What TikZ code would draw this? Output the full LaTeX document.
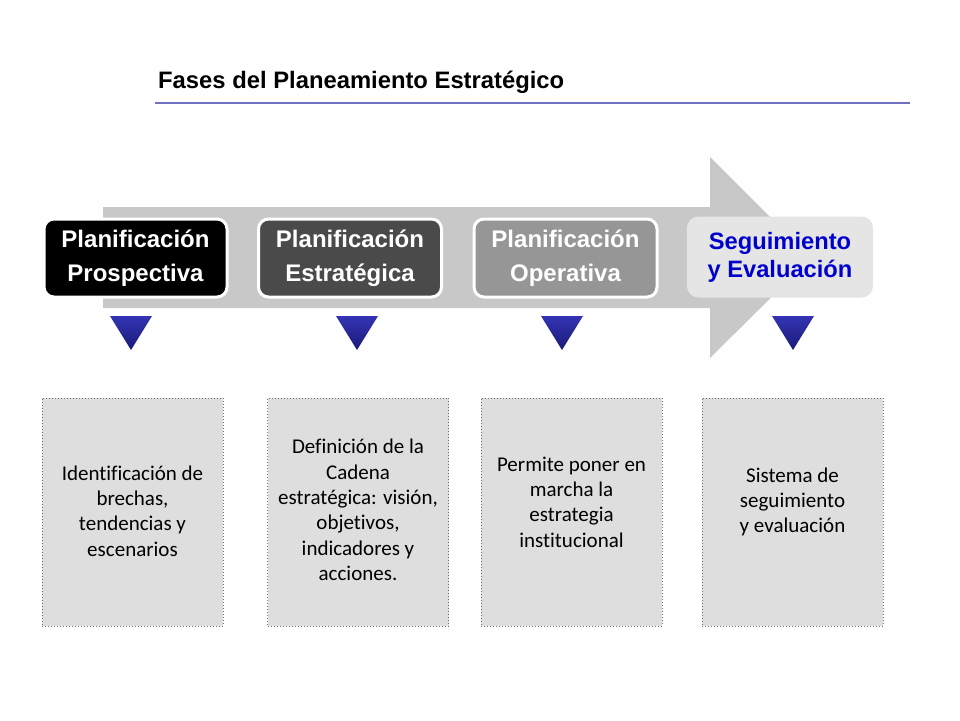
\documentclass[tikz,border=0pt]{standalone}
\usepackage{fontspec}
\setmainfont{Carlito}[Ligatures=NoCommon]
\newfontfamily\arialfont{Liberation Sans}
\definecolor{arrowgray}{RGB}{200,200,200}
\definecolor{lineblue}{RGB}{112,112,192}
\definecolor{phasetwo}{RGB}{74,74,74}
\definecolor{phasethree}{RGB}{150,150,150}
\definecolor{phasefour}{RGB}{229,229,229}
\definecolor{segblue}{RGB}{0,0,204}
\definecolor{tritop}{RGB}{52,52,180}
\definecolor{tribot}{RGB}{26,26,120}
\definecolor{descgray}{RGB}{222,222,222}
\definecolor{descline}{RGB}{110,110,110}
\begin{document}
\begin{tikzpicture}[x=1pt, y=-1pt, every node/.style={inner sep=0pt}]
\useasboundingbox (0,0) rectangle (960,720);

\coordinate (LW) at (155,103);
\coordinate (LE) at (910,103);

\coordinate (P1) at (135.5,258);
\coordinate (P2) at (350,258);
\coordinate (P3) at (565.5,258);
\coordinate (P4) at (780,257);

\coordinate (D1) at (132.5,512);
\coordinate (D2) at (358,512);
\coordinate (D3) at (571.5,512);
\coordinate (D4) at (792.5,512);

% title
\node[anchor=base west, font=\arialfont\bfseries\fontsize{23.8}{28}\selectfont] (title) at (158,88) {Fases del Planeamiento Estratégico};
\draw[lineblue, line width=2pt] (LW) -- (LE);

% big arrow
\fill[arrowgray] (103,207) -- (710,207) -- (710,157) -- (811,258) -- (710,358) -- (710,308) -- (103,308) -- cycle;

\begin{scope}[every node/.style={rectangle, rounded corners=10pt, inner sep=0pt, minimum width=183pt, minimum height=78pt, draw=white, line width=3pt, align=center, text=white, font=\arialfont\bfseries\fontsize{24}{34}\selectfont}]
\node[fill=black] (prosp) at (P1) {Planificación\\Prospectiva};
\node[fill=phasetwo] (estra) at (P2) {Planificación\\Estratégica};
\node[fill=phasethree] (opera) at (P3) {Planificación\\Operativa};
\node[fill=phasefour, draw=phasefour, text=segblue, font=\arialfont\bfseries\fontsize{23.7}{28}\selectfont] (segui) at (P4) {Seguimiento\\y Evaluación};
\end{scope}

% triangles
\begin{scope}[every path/.style={top color=tritop, bottom color=tribot, draw=none}]
\shade (110,316) -- (152,316) -- (131,350) -- cycle;
\shade (336,316) -- (378,316) -- (357,350) -- cycle;
\shade (541,316) -- (583,316) -- (562,350) -- cycle;
\shade (772,316) -- (814,316) -- (793,350) -- cycle;
\end{scope}

\begin{scope}[every node/.style={rectangle, inner sep=0pt, minimum width=181pt, minimum height=228pt, fill=descgray, draw=descline, dotted, line width=1pt}]
\node (brechas) at (D1) {};
\node (cadena) at (D2) {};
\node (marcha) at (D3) {};
\node (sistema) at (D4) {};
\end{scope}

\begin{scope}[every node/.style={inner sep=0pt, align=center, font=\fontsize{21}{25.3}\selectfont}]
\node (brechastext) at ([yshift=1pt]brechas.center) {Identificación de\\brechas,\\tendencias y\\escenarios};
\node (cadenatext) at ([yshift=2pt]cadena.center) {Definición de la\\Cadena\\estratégica: visión,\\objetivos,\\indicadores y\\acciones.};
\node (marchatext) at ([yshift=10pt]marcha.center) {Permite poner en\\marcha la\\estrategia\\institucional};
\node (sistematext) at ([yshift=10pt]sistema.center) {Sistema de\\seguimiento\\y evaluación};
\end{scope}

\end{tikzpicture}
\end{document}
